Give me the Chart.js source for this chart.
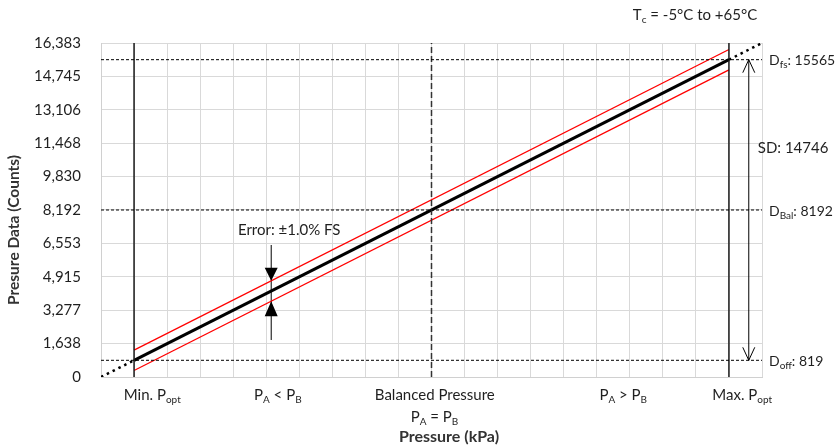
<!DOCTYPE html>
<html>
<head>
<meta charset="utf-8">
<script src="https://cdn.jsdelivr.net/npm/chart.js@4.4.1/dist/chart.umd.min.js"></script>
<style>
  html, body { margin: 0; background: #fff; }
</style>
</head>
<body>
<canvas id="chart" width="837" height="445"></canvas>
<script>
// values
var yTicks = [0, 1638, 3277, 4915, 6553, 8192, 9830, 11468, 13106, 14745, 16383];
var xRange = [0, 20];
var pMin = 1, pBal = 10, pMax = 19;          // Min. Popt, balanced, Max. Popt (x units)
var dOff = 819, dBal = 8192, dFs = 15565;     // counts
var sdValue = 14746;
var sdAt = 19.6;                              // x of the span arrow
var bandHalf = 500;                           // red error band half width, as drawn (counts)
var errAt = 5.15;                             // x of the error marker
var errSpan = [1815, 6475];                   // vertical extent of the error marker line
// x axis category labels: [text, isSubscript] pieces, and where they sit
var xLabels = [
  [['Min. P', 0], ['opt', 1]],
  [['P', 0], ['A', 1], [' < P', 0], ['B', 1]],
  [['Balanced Pressure', 0]],
  [['P', 0], ['A', 1], [' > P', 0], ['B', 1]],
  [['Max. P', 0], ['opt', 1]]
];
var xLabelAt = [1.55, 5.35, 10.1, 15.8, 19.4];

var FONT = 'Lato, "Open Sans", sans-serif';
var TEXT = '#333';
var SIZE = 15;

function line(a, b) { return [{ x: a[0], y: a[1] }, { x: b[0], y: b[1] }]; }

// slope of the transfer line
var k = (dFs - dOff) / (pMax - pMin);
function transfer(x) { return dOff + k * (x - pMin); }

var datasets = [
  // horizontal dashed reference lines
  { data: line([xRange[0], dFs], [xRange[1], dFs]), borderColor: '#000', borderWidth: 1, borderDash: [3, 2] },
  { data: line([xRange[0], dBal], [xRange[1], dBal]), borderColor: '#000', borderWidth: 1, borderDash: [3, 2] },
  { data: line([xRange[0], dOff], [xRange[1], dOff]), borderColor: '#000', borderWidth: 1, borderDash: [3, 2] },
  // verticals
  { data: line([pMin, 0], [pMin, yTicks[10]]), borderColor: '#1a1a1a', borderWidth: 1.5 },
  { data: line([pMax, 0], [pMax, yTicks[10]]), borderColor: '#1a1a1a', borderWidth: 1.5 },
  { data: line([pBal, 0], [pBal, yTicks[10]]), borderColor: '#333', borderWidth: 1.5, borderDash: [6, 3] },
  // extrapolated dotted ends
  { data: line([xRange[0], transfer(xRange[0])], [pMin, dOff]), borderColor: '#000', borderWidth: 2.5, borderDash: [2.5, 4] },
  { data: line([pMax, dFs], [xRange[1], transfer(xRange[1])]), borderColor: '#000', borderWidth: 2.5, borderDash: [2.5, 4] },
  // error band
  { data: line([pMin, dOff + bandHalf], [pMax, dFs + bandHalf]), borderColor: '#ff0000', borderWidth: 1.3 },
  { data: line([pMin, dOff - bandHalf], [pMax, dFs - bandHalf]), borderColor: '#ff0000', borderWidth: 1.3 },
  // transfer line
  { data: line([pMin, dOff], [pMax, dFs]), borderColor: '#000', borderWidth: 3 },
  // span arrow shaft
  { data: line([sdAt, dOff], [sdAt, dFs]), borderColor: '#000', borderWidth: 1 },
  // error marker shaft
  { data: line([errAt, errSpan[0]], [errAt, errSpan[1]]), borderColor: '#000', borderWidth: 1 }
];
datasets.forEach(function (d) { d.showLine = true; d.pointRadius = 0; d.fill = false; });

function rich(ctx, parts, x, y, align, size, bold) {
  var weight = bold ? 'bold ' : '';
  var subSize = Math.round(size * 0.68);
  var w = 0;
  parts.forEach(function (p) {
    ctx.font = weight + (p[1] ? subSize : size) + 'px ' + FONT;
    w += ctx.measureText(p[0]).width;
  });
  var cx = align === 'center' ? x - w / 2 : (align === 'right' ? x - w : x);
  ctx.textAlign = 'left';
  ctx.textBaseline = 'middle';
  parts.forEach(function (p) {
    ctx.font = weight + (p[1] ? subSize : size) + 'px ' + FONT;
    ctx.fillText(p[0], cx, p[1] ? y + size * 0.32 : y);
    cx += ctx.measureText(p[0]).width;
  });
}

var annotations = {
  id: 'annotations',
  afterDatasetsDraw: function (chart) {
    var ctx = chart.ctx, xs = chart.scales.x, ys = chart.scales.y;
    ctx.save();
    // open arrow heads on the span arrow
    var ax = xs.getPixelForValue(sdAt);
    var top = ys.getPixelForValue(dFs), bot = ys.getPixelForValue(dOff);
    ctx.strokeStyle = '#000';
    ctx.lineWidth = 1;
    ctx.beginPath();
    ctx.moveTo(ax - 6, top + 13); ctx.lineTo(ax, top); ctx.lineTo(ax + 6, top + 13);
    ctx.moveTo(ax - 6, bot - 13); ctx.lineTo(ax, bot); ctx.lineTo(ax + 6, bot - 13);
    ctx.stroke();
    // filled triangles on the error marker, tips on the red band
    var ex = xs.getPixelForValue(errAt);
    var up = ys.getPixelForValue(transfer(errAt) + bandHalf);
    var lo = ys.getPixelForValue(transfer(errAt) - bandHalf);
    ctx.fillStyle = '#000';
    ctx.beginPath();
    ctx.moveTo(ex - 6.5, up - 13); ctx.lineTo(ex + 6.5, up - 13); ctx.lineTo(ex, up); ctx.closePath();
    ctx.moveTo(ex - 6.5, lo + 15); ctx.lineTo(ex + 6.5, lo + 15); ctx.lineTo(ex, lo); ctx.closePath();
    ctx.fill();
    ctx.restore();
  },
  afterDraw: function (chart) {
    var ctx = chart.ctx, xs = chart.scales.x, ys = chart.scales.y, area = chart.chartArea;
    ctx.save();
    ctx.fillStyle = '#1f1f1f';
    // x category labels
    xLabels.forEach(function (parts, i) {
      rich(ctx, parts, xs.getPixelForValue(xLabelAt[i]), 395, 'center', SIZE, false);
    });
    rich(ctx, [['P', 0], ['A', 1], [' = P', 0], ['B', 1]], xs.getPixelForValue(pBal) + 3, 417, 'center', SIZE, false);
    // axis titles
    ctx.fillStyle = TEXT;
    rich(ctx, [['Pressure (kPa)', 0]], 449, 437, 'center', 16, true);
    ctx.save();
    ctx.translate(14, 230);
    ctx.rotate(-Math.PI / 2);
    rich(ctx, [['Presure Data (Counts)', 0]], 0, 0, 'center', 15.5, true);
    ctx.restore();
    // right-side value labels
    ctx.fillStyle = '#1f1f1f';
    var rx = area.right + 7;
    rich(ctx, [['D', 0], ['fs', 1], [': ' + dFs, 0]], rx, ys.getPixelForValue(dFs) + 1, 'left', 14, false);
    rich(ctx, [['D', 0], ['Bal', 1], [': ' + dBal, 0]], rx, ys.getPixelForValue(dBal) + 1, 'left', 14, false);
    rich(ctx, [['D', 0], ['off', 1], [': ' + dOff, 0]], rx, ys.getPixelForValue(dOff) + 1, 'left', 14, false);
    rich(ctx, [['SD: ' + sdValue, 0]], xs.getPixelForValue(sdAt) + 9, 148, 'left', SIZE, false);
    rich(ctx, [['Error: \u00b11.0% FS', 0]], xs.getPixelForValue(errAt) + 18, 230, 'center', SIZE, false);
    rich(ctx, [['T', 0], ['c', 1], [' = -5\u00b0C to +65\u00b0C', 0]], 695, 15, 'center', SIZE, false);
    ctx.restore();
  }
};

new Chart(document.getElementById('chart'), {
  type: 'scatter',
  data: { datasets: datasets },
  options: {
    responsive: false,
    animation: false,
    devicePixelRatio: 1,
    layout: { padding: { top: 43, right: 75, left: 0, bottom: 0 } },
    plugins: { legend: { display: false }, tooltip: { enabled: false } },
    scales: {
      x: {
        type: 'linear', min: xRange[0], max: xRange[1],
        ticks: { display: false, stepSize: 1 },
        grid: { color: '#d9d9d9', drawTicks: false },
        border: { color: '#d0d0d0' },
        afterFit: function (s) { s.height = 68; }
      },
      y: {
        min: yTicks[0], max: yTicks[yTicks.length - 1],
        afterBuildTicks: function (s) { s.ticks = yTicks.map(function (v) { return { value: v }; }); },
        ticks: {
          padding: 20, color: '#1f1f1f', font: { family: FONT, size: SIZE },
          callback: function (v) { return v.toLocaleString('en-US'); }
        },
        grid: { color: '#d9d9d9', drawTicks: false },
        border: { color: '#d0d0d0' },
        afterFit: function (s) { s.width = 101; }
      }
    }
  },
  plugins: [annotations]
});
</script>
</body>
</html>
